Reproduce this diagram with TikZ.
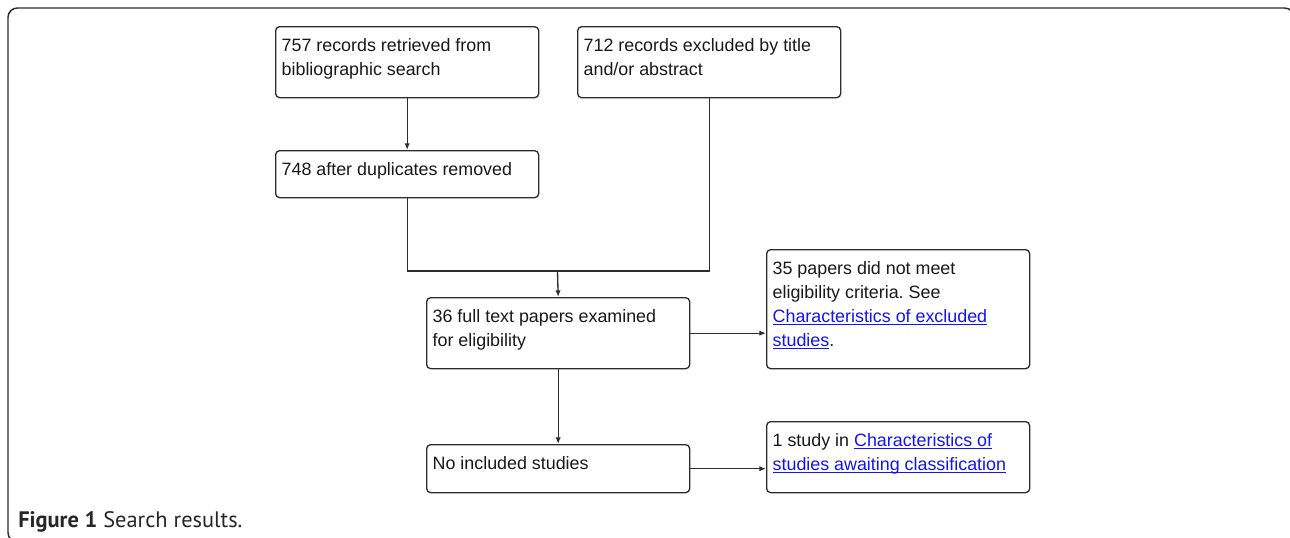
\documentclass[tikz,border=0pt]{standalone}
\usepackage{fontspec}
\setmainfont{Liberation Sans}
\newfontfamily\capfont{PT Sans}
\usetikzlibrary{arrows.meta}
\definecolor{linkblue}{RGB}{20,20,240}
\definecolor{edge}{RGB}{45,45,45}
\frenchspacing
\newlength\lnkw
\newcommand{\lnk}[1]{\settowidth{\lnkw}{#1}\textcolor{linkblue}{\rlap{\rule[-1.9pt]{\lnkw}{0.75pt}}#1}}
\newcommand{\bxt}[2]{\parbox[t][#1][t]{188.25pt}{\fontsize{13.4pt}{18pt}\selectfont\frenchspacing\rule{0pt}{18.75pt}#2}}
\tikzset{
  flowbox/.style={draw=edge, line width=1pt, rounded corners=3pt, anchor=north west,
    inner xsep=4.5pt, inner ysep=0pt, align=left, text=black!90},
  conn/.style={draw=edge, line width=1pt},
  arr/.style={conn, -{Latex[length=5pt,width=4pt]}},
  frame/.style={draw=edge, line width=1.1pt, rounded corners=7pt}
}
\begin{document}
\begin{tikzpicture}[x=0.75pt, y=-0.75pt]
\useasboundingbox (0,0) rectangle (1290,537);
\clip (0,0) rectangle (1290,537);
\fill[white] (0,0) rectangle (1290,537);
\draw[frame] (8,8) rectangle (1294,542);

\node[flowbox] (A) at (275,26) {\bxt{53.25pt}{757 records retrieved from\\bibliographic search}};
\node[flowbox] (B) at (577,26) {\bxt{53.25pt}{712 records excluded by title\\and/or abstract}};
\node[flowbox] (C) at (275,150) {\bxt{35.25pt}{748 after duplicates removed}};
\node[flowbox] (D) at (426,297) {\bxt{53.25pt}{36 full text papers examined\\for eligibility}};
\node[flowbox] (E) at (766,249) {\bxt{89.25pt}{35 papers did not meet\\eligibility criteria. See\\\lnk{Characteristics of excluded}\\\lnk{studies}.}};
\node[flowbox] (F) at (426,444) {\bxt{36pt}{No included studies}};
\node[flowbox] (G) at (766,421) {\bxt{53.25pt}{1 study in \lnk{Characteristics of}\\\lnk{studies awaiting classification}}};

\coordinate (J) at (557.5,271);
\draw[arr] (A.south) -- (C.north);
\draw[conn] (C.south) |- (J) -| (B.south);
\draw[arr] (J) -- (D.north);
\draw[arr] (D.east) -- (D.east -| E.west);
\draw[arr] (D.south) -- (F.north);
\draw[arr] (F.east) -- (F.east -| G.west);

\node[anchor=base west, inner sep=0pt, text=black!85] (cap) at (18,527)
  {\capfont\fontsize{16.8pt}{19pt}\selectfont\textbf{Figure 1} Search results.};
\end{tikzpicture}
\end{document}
